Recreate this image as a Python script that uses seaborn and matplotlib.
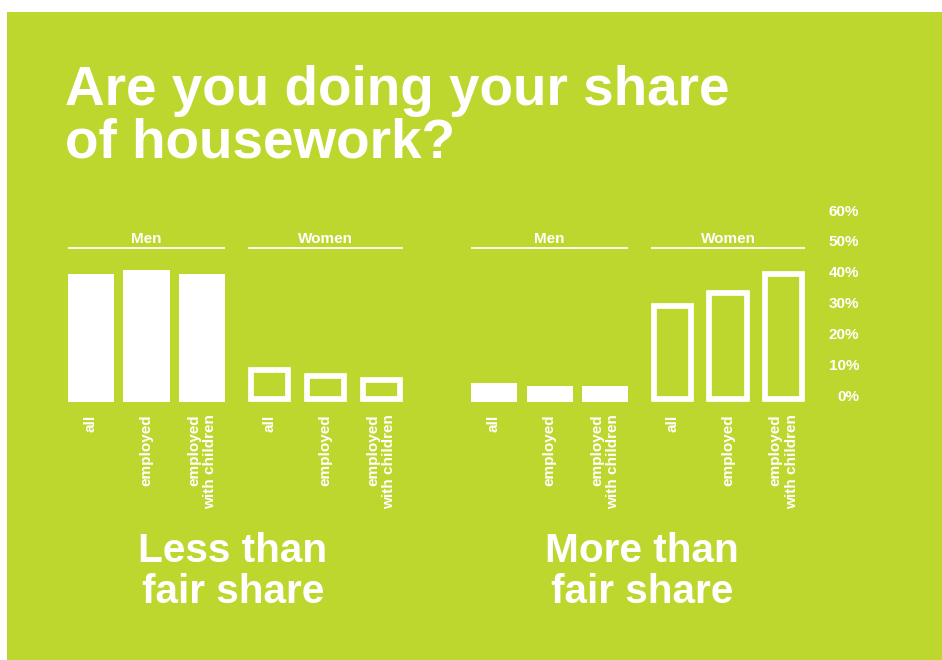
import matplotlib
matplotlib.use("Agg")
import matplotlib.pyplot as plt
import matplotlib.transforms as mtransforms
from matplotlib.patches import Rectangle
import seaborn as sns
import pandas as pd

# ---------------- data ----------------
categories = ["all", "employed", "employed\nwith children"]
less_men = [40, 41.3, 40]
less_women = [10, 8, 7]
more_men = [6, 5, 5]
more_women = [30, 34, 40]
group_titles = ["Men", "Women", "Men", "Women"]
section_titles = [["Less than", "fair share"], ["More than", "fair share"]]
title_lines = ["Are you doing your share", "of housework?"]
y_ticks = [0, 10, 20, 30, 40, 50, 60]
y_tick_labels = [f"{v}%" for v in y_ticks]

# ---------------- style ----------------
GREEN = "#BED72F"
WHITE = "white"
W, H = 942, 660
PX_PER_UNIT = 55.7          # category spacing in px
STROKE_PX = 5.7

sns.set_style("white")
plt.rcParams["font.family"] = ["Liberation Sans", "DejaVu Sans"]
plt.rcParams["font.weight"] = "bold"

fig = plt.figure(figsize=(W / 100, H / 100), dpi=100)
fig.patch.set_facecolor("white")
fig.add_artist(Rectangle((7 / W, 0), 1, (H - 12) / H, transform=fig.transFigure,
                         facecolor=GREEN, edgecolor="none", zorder=0))


def add_axes_px(left, top, right, bottom):
    return fig.add_axes([left / W, 1 - bottom / H, (right - left) / W, (bottom - top) / H])


AX_TOP, AX_BOTTOM = 210, 402
centers = [146.5, 325.5, 549.5, 728.0]
series = [less_men, less_women, more_men, more_women]
filled = [True, False, True, False]

axes = []
for i, (cx, vals, fl) in enumerate(zip(centers, series, filled)):
    half = 1.5 * PX_PER_UNIT
    ax = add_axes_px(cx - half, AX_TOP, cx + half, AX_BOTTOM)
    ax.set_facecolor("none")
    df = pd.DataFrame({"group": categories, "share": vals})
    if fl:
        bw = 46 / PX_PER_UNIT
        sns.barplot(data=df, x="group", y="share", color=WHITE, width=bw,
                    saturation=1, linewidth=0, ax=ax)
        outer_half = bw / 2
    else:
        bw = (43 - STROKE_PX) / PX_PER_UNIT
        sns.barplot(data=df, x="group", y="share", color=WHITE, width=bw,
                    fill=False, linewidth=STROKE_PX * 72 / 100, ax=ax)
        outer_half = bw / 2 + STROKE_PX / 2 / PX_PER_UNIT
    ax.set_xlim(-0.5, 2.5)
    ax.set_ylim(0, 60)
    if not fl:
        # keep the outline stroke above the baseline
        inset = (STROKE_PX / 2) / ((AX_BOTTOM - AX_TOP) / 60)
        for p in ax.patches:
            p.set_y(inset)
            p.set_height(p.get_height() - inset)
            p.set_joinstyle("miter")
            p.set_edgecolor(WHITE)
            p.set_facecolor("none")
    ax.set_xlabel("")
    ax.set_ylabel("")
    ax.set_yticks([])
    for s in ax.spines.values():
        s.set_visible(False)
    ax.tick_params(axis="x", length=0, pad=9, labelsize=11, labelcolor=WHITE)
    for lbl in ax.get_xticklabels():
        lbl.set_rotation(90)
        lbl.set_fontweight("bold")
        lbl.set_multialignment("right")
        lbl.set_va("top")
    # group header line and label
    trans = mtransforms.blended_transform_factory(ax.transData, ax.transAxes)
    ax.plot([-outer_half, 2 + outer_half], [0.802, 0.802], transform=trans,
            color=WHITE, lw=1.3, clip_on=False, solid_capstyle="butt")
    ax.text(1, 0.85, group_titles[i], transform=trans, ha="center", va="center",
            color=WHITE, fontsize=11, fontweight="bold")
    axes.append(ax)

# right-hand percentage scale
axr = axes[3].twinx()
axr.set_ylim(-2.27, 60)
axr.set_yticks(y_ticks)
axr.set_yticklabels(y_tick_labels)
axr.tick_params(axis="y", length=0, pad=34.2, labelsize=11, labelcolor=WHITE)
for lbl in axr.get_yticklabels():
    lbl.set_ha("right")
    lbl.set_fontweight("bold")
for s in axr.spines.values():
    s.set_visible(False)
axr.set_facecolor("none")

# title
fig.text(65 / W, 1 - 105 / H, title_lines[0], ha="left", va="baseline",
         color=WHITE, fontsize=39.5, fontweight="bold")
fig.text(65 / W, 1 - 157.7 / H, title_lines[1], ha="left", va="baseline",
         color=WHITE, fontsize=39.5, fontweight="bold")

# section titles
for (l1, l2), cx in zip(section_titles, [233, 641.7]):
    fig.text(cx / W, 1 - 562.3 / H, l1, ha="center", va="baseline",
             color=WHITE, fontsize=29.2, fontweight="bold")
    fig.text(cx / W, 1 - 603.3 / H, l2, ha="center", va="baseline",
             color=WHITE, fontsize=29.2, fontweight="bold")

fig.savefig("out.png", dpi=100, facecolor=fig.get_facecolor())
